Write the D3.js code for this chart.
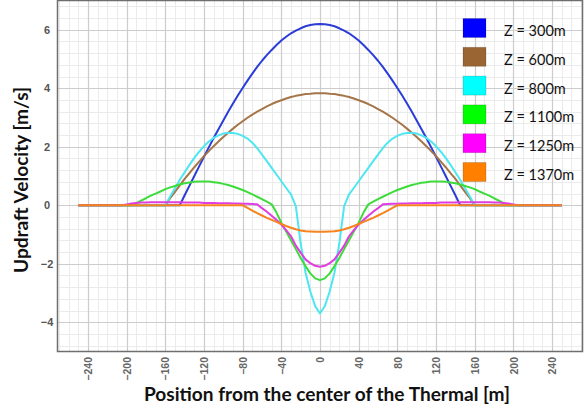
<!DOCTYPE html>
<html><head><meta charset="utf-8">
<script src="https://cdn.jsdelivr.net/npm/d3@7/dist/d3.min.js"></script>
<style>body{margin:0;background:#fff}svg{display:block}</style>
</head><body>
<svg id="chart" width="586" height="413"></svg>
<script>
// ---------- DATA ----------
const positions = [-250,-245,-240,-235,-230,-225,-220,-215,-210,-205,-200,-195,-190,-185,-180,-175,-170,-165,-160,-155,-150,-145,-140,-135,-130,-125,-120,-115,-110,-105,-100,-95,-90,-85,-80,-75,-70,-65,-60,-55,-50,-45,-40,-35,-30,-25,-20,-15,-10,-5,0,5,10,15,20,25,30,35,40,45,50,55,60,65,70,75,80,85,90,95,100,105,110,115,120,125,130,135,140,145,150,155,160,165,170,175,180,185,190,195,200,205,210,215,220,225,230,235,240,245,250];

const seriesNames = ["Z = 300m","Z = 600m","Z = 800m","Z = 1100m","Z = 1250m","Z = 1370m"];

const z300 = [0,0,0,0,0,0,0,0,0,0,0,0,0,0,0,0,0,0,0,0,0,0,
  0.34,0.67,1.00,1.33,1.66,1.98,2.30,2.60,2.90,3.20,3.48,3.75,4.01,4.26,4.50,4.73,4.94,5.13,5.31,5.48,5.63,5.76,5.88,5.97,6.05,6.12,6.16,6.19,
  6.20,
  6.19,6.16,6.12,6.05,5.97,5.88,5.76,5.63,5.48,5.31,5.13,4.94,4.73,4.50,4.26,4.01,3.75,3.48,3.20,2.90,2.60,2.30,1.98,1.66,1.33,1.00,0.67,0.34,
  0,0,0,0,0,0,0,0,0,0,0,0,0,0,0,0,0,0,0,0,0,0];

const z600 = [0,0,0,0,0,0,0,0,0,0,0,0,0,0,0,0,0,0,0,
  0.24,0.46,0.68,0.90,1.10,1.30,1.49,1.68,1.85,2.02,2.18,2.33,2.48,2.62,2.75,2.87,2.99,3.10,3.20,3.29,3.38,3.46,3.53,3.59,3.65,3.70,3.74,3.77,3.80,3.81,3.83,
  3.83,
  3.83,3.81,3.80,3.77,3.74,3.70,3.65,3.59,3.53,3.46,3.38,3.29,3.20,3.10,2.99,2.87,2.75,2.62,2.48,2.33,2.18,2.02,1.85,1.68,1.49,1.30,1.10,0.90,0.68,0.46,0.24,
  0,0,0,0,0,0,0,0,0,0,0,0,0,0,0,0,0,0,0];

const z800 = [0,0,0,0,0,0,0,0,0,0,0,0,0,0,0,0,0,0,0,
  0.30,0.58,0.87,1.13,1.38,1.62,1.83,2.02,2.18,2.30,2.39,2.45,2.48,2.47,2.44,2.37,2.28,2.14,1.95,1.73,1.51,1.28,1.05,0.82,0.59,0.37,-0.03,-1.30,-2.30,-2.95,-3.45,
  -3.70,
  -3.45,-2.95,-2.30,-1.30,-0.03,0.37,0.59,0.82,1.05,1.28,1.51,1.73,1.95,2.14,2.28,2.37,2.44,2.47,2.48,2.45,2.39,2.30,2.18,2.02,1.83,1.62,1.38,1.13,0.87,0.58,0.30,
  0,0,0,0,0,0,0,0,0,0,0,0,0,0,0,0,0,0,0];

const z1100 = [0,0,0,0,0,0,0,0,0,0,0,0,
  0.07,0.16,0.24,0.33,0.40,0.47,0.55,0.61,0.66,0.71,0.75,0.78,0.80,0.81,0.81,0.81,0.79,0.77,0.73,0.69,0.64,0.58,0.52,0.45,0.37,0.29,0.21,0.12,0.03,
  -0.25,-0.60,-0.90,-1.20,-1.50,-1.80,-2.08,-2.33,-2.50,
  -2.56,
  -2.50,-2.33,-2.08,-1.80,-1.50,-1.20,-0.90,-0.60,-0.25,
  0.03,0.12,0.21,0.29,0.37,0.45,0.52,0.58,0.64,0.69,0.73,0.77,0.79,0.81,0.81,0.81,0.80,0.78,0.75,0.71,0.66,0.61,0.55,0.47,0.40,0.33,0.24,0.16,0.07,
  0,0,0,0,0,0,0,0,0,0,0,0];

const z1250 = [0,0,0,0,0,0,0,0,0,0,
  0.03,0.06,0.08,0.09,0.09,0.10,0.10,0.10,0.10,0.10,0.10,0.10,0.09,0.09,0.09,0.09,0.08,0.08,0.08,0.07,0.07,0.07,0.06,0.06,0.05,0.05,0.04,0.03,
  -0.10,-0.22,-0.36,-0.50,-0.66,-0.85,-1.06,-1.38,-1.62,-1.85,-1.98,-2.07,
  -2.10,
  -2.07,-1.98,-1.85,-1.62,-1.38,-1.06,-0.85,-0.66,-0.50,-0.36,-0.22,-0.10,
  0.03,0.04,0.05,0.05,0.06,0.06,0.07,0.07,0.07,0.08,0.08,0.08,0.09,0.09,0.09,0.09,0.10,0.10,0.10,0.10,0.10,0.10,0.10,0.09,0.09,0.08,0.06,0.03,
  0,0,0,0,0,0,0,0,0,0];

const z1370 = [0,0,0,0,0,0,0,0,0,0,0,0,0,0,0,0,0,0,0,0,0,0,0,0,0,0,0,0,0,0,0,0,0,0,0,
  -0.09,-0.18,-0.27,-0.35,-0.43,-0.50,-0.57,-0.64,-0.71,-0.77,-0.82,-0.86,-0.89,-0.90,-0.91,
  -0.91,
  -0.91,-0.90,-0.89,-0.86,-0.82,-0.77,-0.71,-0.64,-0.57,-0.50,-0.43,-0.35,-0.27,-0.18,-0.09,
  0,0,0,0,0,0,0,0,0,0,0,0,0,0,0,0,0,0,0,0,0,0,0,0,0,0,0,0,0,0,0,0,0,0,0];

const xTickValues = [-240,-200,-160,-120,-80,-40,0,40,80,120,160,200,240];
const yTickValues = [-4,-2,0,2,4,6];

// ---------- STYLE / LAYOUT ----------
const allSeries = [z300, z600, z800, z1100, z1250, z1370];
const lineColors = ["#2b3cd8","#a57548","#4ee6f2","#3ddc3a","#e03ce0","#f5841f"];
const legendColors = ["#0000ff","#9b6433","#00ffff","#00ff00","#ff00ff","#ff8000"];

const W = 586, H = 413;
const plot = {left: 57.5, right: 582.5, top: 0.5, bottom: 351.5};

const svg = d3.select("#chart");
const x = d3.scaleLinear().domain([-271.5, 271.5]).range([plot.left, plot.right]);
const y = d3.scaleLinear().domain([-5, 7]).range([plot.bottom, plot.top]);

svg.append("rect").attr("x",0).attr("y",0).attr("width",W).attr("height",H).attr("fill","#fff");

// grid
const g = svg.append("g");
const minorX = d3.range(-270, 271, 10).filter(v => v % 40 !== 0);
const minorY = d3.range(-24, 35).map(k => k * 0.2).filter(v => Math.round(v*10) % 4 === 0 && Math.round(v*10) % 20 !== 0);
g.selectAll(".mx").data(minorX).join("line")
  .attr("x1", d => Math.round(x(d)) + 0.5).attr("x2", d => Math.round(x(d)) + 0.5)
  .attr("y1", plot.top).attr("y2", plot.bottom)
  .attr("stroke", "#ebebeb").attr("stroke-width", 1);
g.selectAll(".my").data(minorY).join("line")
  .attr("y1", d => Math.round(y(d)) + 0.5).attr("y2", d => Math.round(y(d)) + 0.5)
  .attr("x1", plot.left).attr("x2", plot.right)
  .attr("stroke", "#ebebeb").attr("stroke-width", 1);
g.selectAll(".Mx").data(xTickValues).join("line")
  .attr("x1", d => Math.round(x(d)) + 0.5).attr("x2", d => Math.round(x(d)) + 0.5)
  .attr("y1", plot.top).attr("y2", plot.bottom)
  .attr("stroke", "#cccccc").attr("stroke-width", 1.2);
g.selectAll(".My").data(yTickValues).join("line")
  .attr("y1", d => Math.round(y(d)) + 0.5).attr("y2", d => Math.round(y(d)) + 0.5)
  .attr("x1", plot.left).attr("x2", plot.right)
  .attr("stroke", "#cccccc").attr("stroke-width", 1.2);

// lines
const line = d3.line().x((d, i) => x(positions[i])).y(d => y(d));
svg.append("g").selectAll("path").data(allSeries).join("path")
  .attr("d", d => line(d))
  .attr("fill", "none")
  .attr("stroke", (d, i) => lineColors[i])
  .attr("stroke-width", 2)
  .attr("stroke-linejoin", "round");

// frame
svg.append("rect")
  .attr("x", plot.left).attr("y", plot.top)
  .attr("width", plot.right - plot.left).attr("height", plot.bottom - plot.top)
  .attr("fill", "none").attr("stroke", "#6e6e6e").attr("stroke-width", 1.5);

// axes
const yAxis = d3.axisLeft(y).tickValues(yTickValues).tickSize(0).tickPadding(0).tickFormat(d3.format("d"));
const ya = svg.append("g").attr("transform", "translate(47,0)").call(yAxis);
ya.select(".domain").remove();
ya.selectAll("text").attr("text-anchor", "middle").attr("x", 0)
  .style("font-family", "Liberation Sans, Arial, sans-serif").style("font-weight", "bold")
  .style("font-size", "11px").attr("fill", "#555");

const xAxis = d3.axisBottom(x).tickValues(xTickValues).tickSize(0).tickPadding(0).tickFormat(d3.format("d"));
const xa = svg.append("g").attr("transform", "translate(0,357)").call(xAxis);
xa.select(".domain").remove();
xa.selectAll("text")
  .attr("transform", "rotate(-90)")
  .attr("text-anchor", "end")
  .attr("x", 0).attr("y", 0).attr("dy", "0.35em")
  .style("font-family", "Liberation Sans, Arial, sans-serif").style("font-weight", "bold")
  .style("font-size", "10.5px").attr("fill", "#666");

// titles
svg.append("text")
  .attr("x", 327).attr("y", 401)
  .attr("text-anchor", "middle")
  .attr("textLength", 366).attr("lengthAdjust", "spacingAndGlyphs")
  .style("font-family", "Lato, 'Open Sans', sans-serif").style("font-weight", "bold")
  .style("font-size", "18.5px").attr("fill", "#111")
  .text("Position from the center of the Thermal [m]");

svg.append("text")
  .attr("transform", "translate(27.5,180) rotate(-90)")
  .attr("text-anchor", "middle")
  .attr("textLength", 186).attr("lengthAdjust", "spacingAndGlyphs")
  .style("font-family", "Lato, 'Open Sans', sans-serif").style("font-weight", "bold")
  .style("font-size", "18.5px").attr("fill", "#111")
  .text("Updraft Velocity [m/s]");

// legend
const legend = svg.append("g");
const rowTop = i => 18.5 + i * 28.8;
legend.selectAll("rect").data(seriesNames).join("rect")
  .attr("x", 463).attr("y", (d, i) => rowTop(i))
  .attr("width", 23).attr("height", 19)
  .attr("fill", (d, i) => legendColors[i])
  .attr("stroke", "rgba(0,0,0,0.15)").attr("stroke-width", 1);
legend.selectAll("text").data(seriesNames).join("text")
  .attr("x", 504).attr("y", (d, i) => rowTop(i) + 17.5)
  .style("font-family", "Lato, 'Open Sans', sans-serif")
  .style("font-size", "14.5px").attr("fill", "#111")
  .text(d => d);
</script>
</body></html>
